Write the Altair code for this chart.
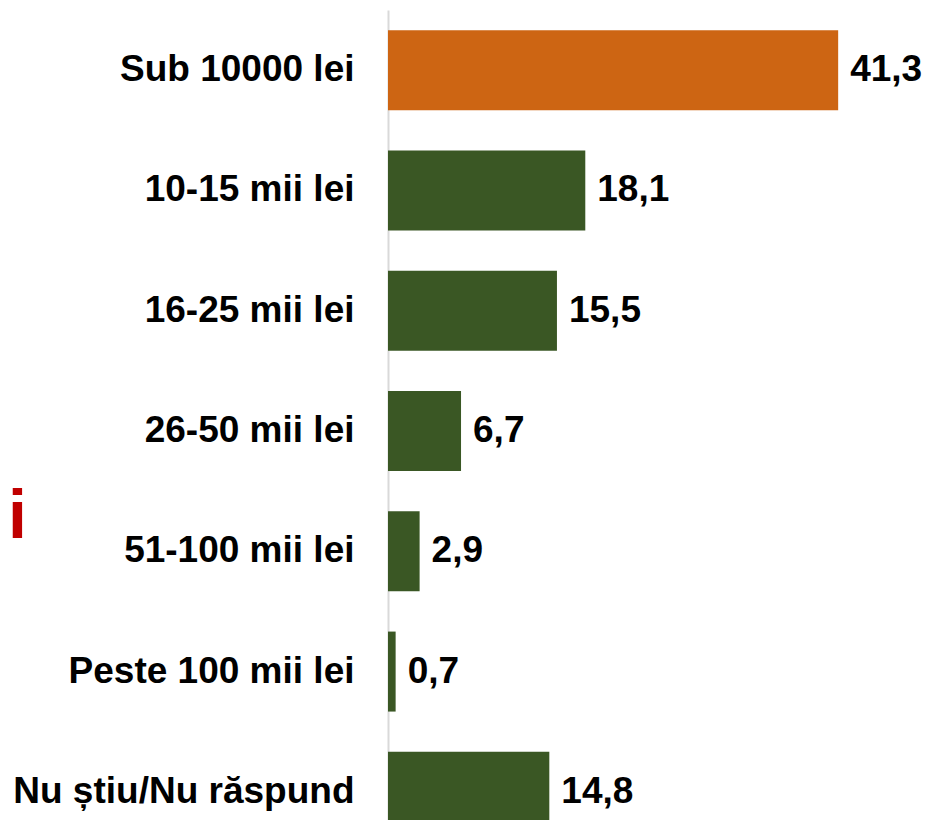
import altair as alt
import pandas as pd

categories = ["Sub 10000 lei", "10-15 mii lei", "16-25 mii lei", "26-50 mii lei",
              "51-100 mii lei", "Peste 100 mii lei", "Nu știu/Nu răspund"]
values = [41.3, 18.1, 15.5, 6.7, 2.9, 0.7, 14.8]
highlight = ["yes", "no", "no", "no", "no", "no", "no"]

# fragment of a cut-off red title at the left edge of the slide
title_frags = ["i"]

df = pd.DataFrame({
    "cat": categories,
    "val": values,
    "hl": highlight,
    "label": [f"{v:.1f}".replace(".", ",") for v in values],
})

FONT = "Liberation Sans"
XMAX = 534 / 10.9

y_enc = alt.Y("cat:N", sort=categories, title=None,
              scale=alt.Scale(range=[0, 842], paddingInner=0.335, paddingOuter=0.1675),
              axis=alt.Axis(labelFont=FONT, labelFontSize=37, labelFontWeight="bold",
                            labelColor="#000000", labelPadding=34, ticks=False,
                            domainColor="#d9d9d9", domainWidth=2, labelLimit=400))
x_enc = alt.X("val:Q", title=None, scale=alt.Scale(domain=[0, XMAX], nice=False),
              axis=None)

bars = alt.Chart(df).mark_bar().encode(
    y=y_enc, x=x_enc,
    color=alt.Color("hl:N", scale=alt.Scale(domain=["yes", "no"], range=["#CD6513", "#3A5724"]),
                    legend=None),
)

text = alt.Chart(df).mark_text(align="left", baseline="middle", dx=12, font=FONT,
                               fontSize=37, fontWeight="bold", color="#000000").encode(
    y=alt.Y("cat:N", sort=categories), x="val:Q", text="label:N"
)

frag_df = pd.DataFrame({"t": title_frags})
frag = alt.Chart(frag_df).mark_text(
    align="left", baseline="alphabetic", font=FONT, fontSize=68, fontWeight="bold",
    color="#C00000").encode(x=alt.value(-380), y=alt.value(528), text="t:N")

chart = alt.layer(bars, text, frag).properties(
    width=534, height=810,
    autosize=alt.AutoSizeParams(type="none"),
    padding={"left": 380, "top": 2, "right": 0, "bottom": 0},
    background="#ffffff",
).configure_view(stroke=None)

chart.save("out.html", embed_options={"renderer": "svg", "actions": False})
